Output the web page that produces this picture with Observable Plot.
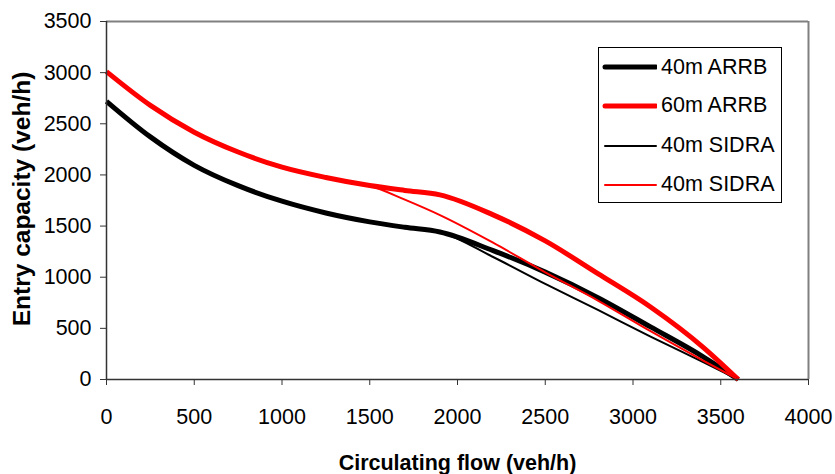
<!DOCTYPE html>
<html>
<head>
<meta charset="utf-8">
<script src="https://cdn.jsdelivr.net/npm/d3@7"></script>
<script src="https://cdn.jsdelivr.net/npm/@observablehq/plot@0.6"></script>
<style>
  html, body { margin: 0; padding: 0; background: #fff; }
  #wrap { position: relative; width: 835px; height: 474px; font-family: "Liberation Sans", Arial, sans-serif; }
  #legend { position: absolute; left: 598px; top: 47px; width: 182px; height: 154px; border: 1px solid #000; background: #fff; box-sizing: content-box; }
  #legend .row { position: absolute; left: 0; height: 24px; display: flex; align-items: center; }
  #legend .row span { font-size: 21.5px; color: #000; margin-left: 4px; white-space: nowrap; }
</style>
</head>
<body>
<div id="wrap"></div>
<script>
// Data
const flowARRB = [0, 250, 500, 750, 1000, 1250, 1500, 1700, 1900, 2200, 2500, 2800, 3100, 3400, 3600];
const cap40ARRB = [2720, 2372, 2094, 1895, 1743, 1628, 1541, 1488, 1442, 1262, 1050, 800, 514, 222, 0];
const cap60ARRB = [3010, 2680, 2418, 2224, 2076, 1975, 1896, 1848, 1805, 1612, 1355, 1035, 709, 315, 0];

const flowSIDRAblack = [0, 250, 500, 750, 1000, 1250, 1500, 1700, 1900, 2200, 2500, 2800, 3100, 3400, 3600];
const cap40SIDRAblack = [2720, 2372, 2094, 1895, 1743, 1628, 1541, 1488, 1442, 1200, 935, 680, 420, 170, 0];

const flowSIDRAred = [0, 250, 500, 750, 1000, 1250, 1500, 1700, 1900, 2200, 2500, 2800, 3100, 3400, 3600];
const cap40SIDRAred = [3010, 2680, 2418, 2224, 2076, 1975, 1896, 1758, 1607, 1340, 1048, 772, 472, 185, 0];

const xTicks = [0, 500, 1000, 1500, 2000, 2500, 3000, 3500, 4000];
const yTicks = [0, 500, 1000, 1500, 2000, 2500, 3000, 3500];

const seriesNames = ["40m ARRB", "60m ARRB", "40m SIDRA", "40m SIDRA"];
const seriesColors = ["#000000", "#ff0000", "#000000", "#ff0000"];
const seriesWidths = [5, 5, 2, 2];

const xTitle = "Circulating flow (veh/h)";
const yTitle = "Entry capacity (veh/h)";

const toRows = (xs, ys) => xs.map((x, i) => ({x, y: ys[i]}));
const series = [
  toRows(flowARRB, cap40ARRB),
  toRows(flowARRB, cap60ARRB),
  toRows(flowSIDRAblack, cap40SIDRAblack),
  toRows(flowSIDRAred, cap40SIDRAred)
];

const chart = Plot.plot({
  width: 835,
  height: 474,
  marginLeft: 106,
  marginRight: 27,
  marginTop: 21,
  marginBottom: 95,
  style: {fontFamily: "'Liberation Sans', Arial, sans-serif", fontSize: "21.5px", color: "#000", background: "#fff"},
  x: {domain: [0, 4000]},
  y: {domain: [0, 3500]},
  marks: [
    Plot.ruleY([3500], {stroke: "#808080", strokeWidth: 2}),
    Plot.ruleX([4000], {stroke: "#808080", strokeWidth: 2}),
    ...series.map((d, i) => Plot.line(d, {x: "x", y: "y", stroke: seriesColors[i], strokeWidth: seriesWidths[i], curve: "monotone-x", strokeLinejoin: "round", strokeLinecap: "butt"})),
    Plot.ruleX([0], {stroke: "#333", strokeWidth: 1.5}),
    Plot.ruleY([0], {stroke: "#333", strokeWidth: 1.5}),
    Plot.axisX({ticks: xTicks, tickSize: 6, tickPadding: 23, label: null, stroke: "#333", tickFormat: d => String(d)}),
    Plot.axisY({ticks: yTicks, tickSize: 6, tickPadding: 9, label: null, stroke: "#333", tickFormat: d => String(d)}),
    Plot.text([xTitle], {frameAnchor: "bottom", textAnchor: "middle", lineAnchor: "bottom", dy: 90, fontWeight: "bold", fontSize: 21.5, fill: "#000"}),
    Plot.text([yTitle], {frameAnchor: "left", textAnchor: "middle", lineAnchor: "middle", dx: -84, dy: -1.5, rotate: -90, fontWeight: "bold", fontSize: 24.5, fill: "#000"})
  ]
});

const wrap = document.getElementById("wrap");
wrap.appendChild(chart);

// Legend overlay (inside plot area, like the original)
const legend = document.createElement("div");
legend.id = "legend";
const rowCenters = [19, 57.5, 97.5, 136.5];
seriesNames.forEach((name, i) => {
  const row = document.createElement("div");
  row.className = "row";
  row.style.top = (rowCenters[i] - 12) + "px";
  row.innerHTML = `<svg width="58" height="24"><line x1="6" x2="57" y1="12" y2="12" stroke="${seriesColors[i]}" stroke-width="${seriesWidths[i]}" stroke-linecap="round"/></svg><span>${name}</span>`;
  legend.appendChild(row);
});
wrap.appendChild(legend);
</script>
</body>
</html>
